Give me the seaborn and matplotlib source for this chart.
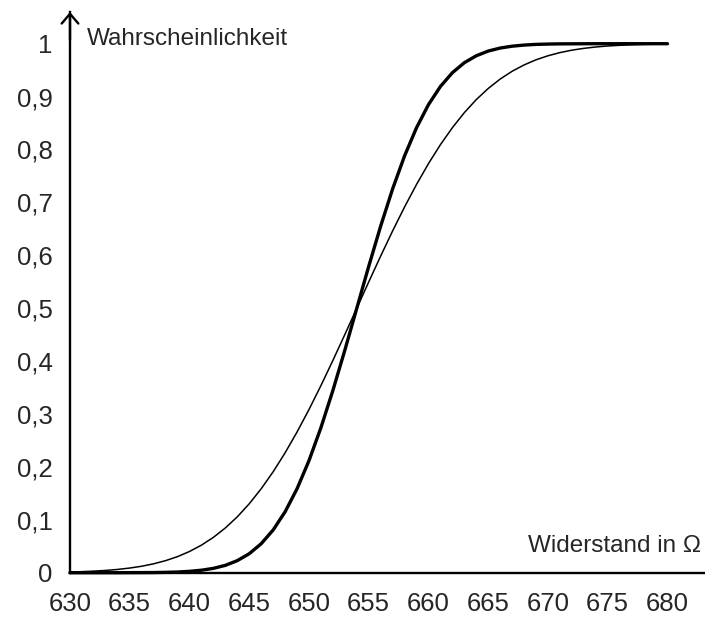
import numpy as np
import pandas as pd
import seaborn as sns
import matplotlib.pyplot as plt

# Widerstand in Ohm (x-Werte)
widerstand = list(range(630, 681))

# Verteilungsfunktion, dicke Kurve
p_dick = [0.0000, 0.0000, 0.0000, 0.0000, 0.0000, 0.0001, 0.0002, 0.0003, 0.0007, 0.0013,
          0.0026, 0.0047, 0.0082, 0.0139, 0.0228, 0.0359, 0.0548, 0.0808, 0.1151, 0.1587,
          0.2119, 0.2743, 0.3446, 0.4207, 0.5000, 0.5793, 0.6554, 0.7257, 0.7881, 0.8413,
          0.8849, 0.9192, 0.9452, 0.9641, 0.9772, 0.9861, 0.9918, 0.9953, 0.9974, 0.9987,
          0.9993, 0.9997, 0.9998, 0.9999, 1.0000, 1.0000, 1.0000, 1.0000, 1.0000, 1.0000,
          1.0000]

# Verteilungsfunktion, dünne Kurve
p_duenn = [0.0013, 0.0020, 0.0030, 0.0043, 0.0062, 0.0088, 0.0122, 0.0168, 0.0228, 0.0304,
           0.0401, 0.0521, 0.0668, 0.0846, 0.1056, 0.1303, 0.1587, 0.1908, 0.2266, 0.2660,
           0.3085, 0.3538, 0.4013, 0.4503, 0.5000, 0.5497, 0.5987, 0.6462, 0.6915, 0.7340,
           0.7734, 0.8092, 0.8413, 0.8697, 0.8944, 0.9154, 0.9332, 0.9479, 0.9599, 0.9696,
           0.9772, 0.9832, 0.9878, 0.9912, 0.9938, 0.9957, 0.9970, 0.9980, 0.9987, 0.9991,
           0.9994]

x_ticks = list(range(630, 681, 5))
y_ticks = [0, 0.1, 0.2, 0.3, 0.4, 0.5, 0.6, 0.7, 0.8, 0.9, 1]
y_labels = ["0", "0,1", "0,2", "0,3", "0,4", "0,5", "0,6", "0,7", "0,8", "0,9", "1"]

sns.set_style("white")
plt.rcParams['font.family'] = ['Liberation Sans', 'DejaVu Sans']
text_color = "#262626"

df = pd.DataFrame({"x": widerstand, "dick": p_dick, "duenn": p_duenn})

fig = plt.figure(figsize=(7.05, 6.18), dpi=100)
ax = fig.add_axes([70 / 705, 45.3 / 618, 635 / 705, 560.7 / 618])

sns.lineplot(data=df, x="x", y="duenn", ax=ax, color="black", linewidth=1.1,
             solid_capstyle="round", clip_on=False)
sns.lineplot(data=df, x="x", y="dick", ax=ax, color="black", linewidth=2.4,
             solid_capstyle="round", clip_on=False)

ax.set_xlim(630, 630 + 635 / 11.95)
ax.set_ylim(0, 560.7 / 529)

ax.set_xticks(x_ticks)
ax.set_xticklabels([str(t) for t in x_ticks])
ax.set_yticks(y_ticks)
ax.set_yticklabels(y_labels)
ax.tick_params(axis="both", direction="out", length=6.5, width=1.4,
               labelsize=18.5, labelcolor=text_color, color="black")
ax.tick_params(axis="x", pad=7.5)
ax.tick_params(axis="y", pad=6)

ax.set_xlabel("")
ax.set_ylabel("")
for s in ["top", "right"]:
    ax.spines[s].set_visible(False)
for s in ["left", "bottom"]:
    ax.spines[s].set_linewidth(1.7)
    ax.spines[s].set_color("black")

# Pfeilspitze an der y-Achse
ax.annotate("", xy=(0, 1), xytext=(0, 0.95), xycoords="axes fraction",
            arrowprops=dict(arrowstyle="->,head_length=0.7,head_width=0.6",
                            lw=1.7, color="black", shrinkA=0, shrinkB=0),
            annotation_clip=False)

ax.text(631.4, 0.997, "Wahrscheinlichkeit", ha="left", va="baseline",
        fontsize=17.5, color=text_color)
ax.text(682.8, 0.0386, "Widerstand in Ω", ha="right", va="baseline",
        fontsize=17.5, color=text_color)

plt.savefig("out.png", dpi=100)
